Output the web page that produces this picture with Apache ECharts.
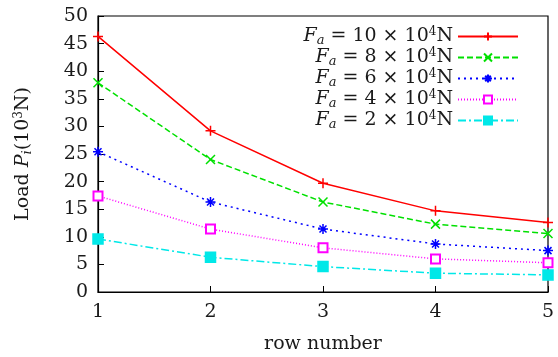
<!DOCTYPE html>
<html>
<head>
<meta charset="utf-8">
<script src="https://cdn.jsdelivr.net/npm/echarts@6/dist/echarts.min.js"></script>
<style>
  html, body { margin: 0; padding: 0; background: #fff; }
  #chart { width: 558px; height: 357px; }
</style>
</head>
<body>
<div id="chart"></div>
<script>
// Row positions along the bearing and the load carried at each row
const rows = [1, 2, 3, 4, 5];
const forceLabels = ['10', '8', '6', '4', '2'];
const load10 = [46.3, 29.2, 19.7, 14.7, 12.6];
const load8  = [37.9, 24.0, 16.3, 12.3, 10.6];
const load6  = [25.4, 16.3, 11.4, 8.7, 7.5];
const load4  = [17.4, 11.4, 8.0, 6.0, 5.3];
const load2  = [9.6, 6.3, 4.6, 3.4, 3.1];
const yTicks = [0, 5, 10, 15, 20, 25, 30, 35, 40, 45, 50];

const serif = '"DejaVu Serif", "Liberation Serif", serif';
const baseSize = 19;
const ink = '#1a1a1a';

const plus = 'path://M0,5L10,5M5,0L5,10';
const cross = 'path://M0,0L10,10M10,0L0,10';
const star = 'path://M0,5L10,5M5,0L5,10M1.5,1.5L8.5,8.5M8.5,1.5L1.5,8.5';

const seriesDefs = [
  { data: load10, color: '#ff0000', symbol: plus, size: 10, dash: 'solid' },
  { data: load8,  color: '#00e000', symbol: cross, size: 9, dash: [6, 3] },
  { data: load6,  color: '#0000ff', symbol: star, size: 10, dash: [2, 4] },
  { data: load4,  color: '#ff00ff', symbol: 'emptyRect', size: 9, dash: [1, 2] },
  { data: load2,  color: '#00e8e8', symbol: 'rect', size: 10, dash: [8, 3, 2, 3] }
];

const names = forceLabels.map(f => 'Fa' + f);

// width of a string in the label font, used to right-align the legend texts
const measureCtx = document.createElement('canvas').getContext('2d');
measureCtx.font = baseSize + 'px ' + serif;
const widest = Math.max.apply(null, forceLabels.map(f => measureCtx.measureText(f).width));

const series = seriesDefs.map((s, i) => ({
  name: names[i],
  type: 'line',
  data: rows.map((r, k) => [r, s.data[k]]),
  symbol: s.symbol,
  symbolSize: s.size,
  showAllSymbol: true,
  lineStyle: { color: s.color, width: 1.5, type: s.dash },
  itemStyle: { color: s.color, borderColor: s.color, borderWidth: 1.5 },
  emphasis: { disabled: true },
  animation: false
}));

const legendRich = {
  f: { fontFamily: serif, fontStyle: 'italic', fontSize: baseSize, lineHeight: 21, color: ink },
  s: { fontFamily: serif, fontStyle: 'italic', fontSize: 13, lineHeight: 21, verticalAlign: 'bottom', color: ink },
  eq: { fontFamily: serif, fontSize: baseSize, lineHeight: 21, color: ink },
  p: { fontFamily: serif, fontSize: 12, lineHeight: 21, verticalAlign: 'top', color: ink }
};
forceLabels.forEach((f, i) => {
  legendRich['w' + i] = { width: Math.max(0.01, widest - measureCtx.measureText(f).width), height: 21, lineHeight: 21 };
});

const chart = echarts.init(document.getElementById('chart'), null, { renderer: 'canvas' });
chart.setOption({
  backgroundColor: '#fff',
  grid: {
    left: 98, right: 10, top: 16, bottom: 65,
    outerBoundsMode: 'none',
    containLabel: false,
    show: true, borderColor: '#000', borderWidth: 1.2
  },
  legend: {
    orient: 'vertical',
    right: 34,
    top: 21,
    align: 'right',
    itemWidth: 60,
    itemHeight: 10,
    itemGap: 0,
    selectedMode: false,
    data: names,
    formatter: function (name) {
      const i = names.indexOf(name);
      return '{w' + i + '|}{f|F}{s|a}{eq| = ' + forceLabels[i] + ' × 10}{p|4}{eq|N}';
    },
    textStyle: {
      fontFamily: serif,
      fontSize: baseSize,
      color: ink,
      lineHeight: 21,
      rich: legendRich
    }
  },
  xAxis: {
    type: 'value',
    min: 1,
    max: 5,
    interval: 1,
    name: 'row number',
    nameLocation: 'middle',
    nameGap: 43,
    nameTextStyle: { fontFamily: serif, fontSize: baseSize, color: ink },
    axisLine: { show: true, lineStyle: { color: '#000', width: 1.2 } },
    axisTick: { show: true, inside: true, length: 6, lineStyle: { color: '#000' } },
    axisLabel: { fontFamily: serif, fontSize: baseSize, color: ink, margin: 11 },
    splitLine: { show: false }
  },
  yAxis: {
    type: 'value',
    min: yTicks[0],
    max: yTicks[yTicks.length - 1],
    interval: 5,
    name: '{t|Load }{i|P}{s|i}{t|(10}{p|3}{t|N)}',
    nameLocation: 'middle',
    nameGap: 64,
    nameTextStyle: {
      fontFamily: serif,
      fontSize: baseSize,
      color: ink,
      rich: {
        t: { fontFamily: serif, fontSize: baseSize, lineHeight: 21, color: ink },
        i: { fontFamily: serif, fontStyle: 'italic', fontSize: baseSize, lineHeight: 21, color: ink },
        s: { fontFamily: serif, fontStyle: 'italic', fontSize: 13, lineHeight: 21, verticalAlign: 'bottom', color: ink },
        p: { fontFamily: serif, fontSize: 12, lineHeight: 21, verticalAlign: 'top', color: ink }
      }
    },
    axisLine: { show: true, lineStyle: { color: '#000', width: 1.2 } },
    axisTick: { show: true, inside: true, length: 6, lineStyle: { color: '#000' } },
    axisLabel: { fontFamily: serif, fontSize: baseSize, color: ink, margin: 10 },
    splitLine: { show: false }
  },
  series: series
});
</script>
</body>
</html>
